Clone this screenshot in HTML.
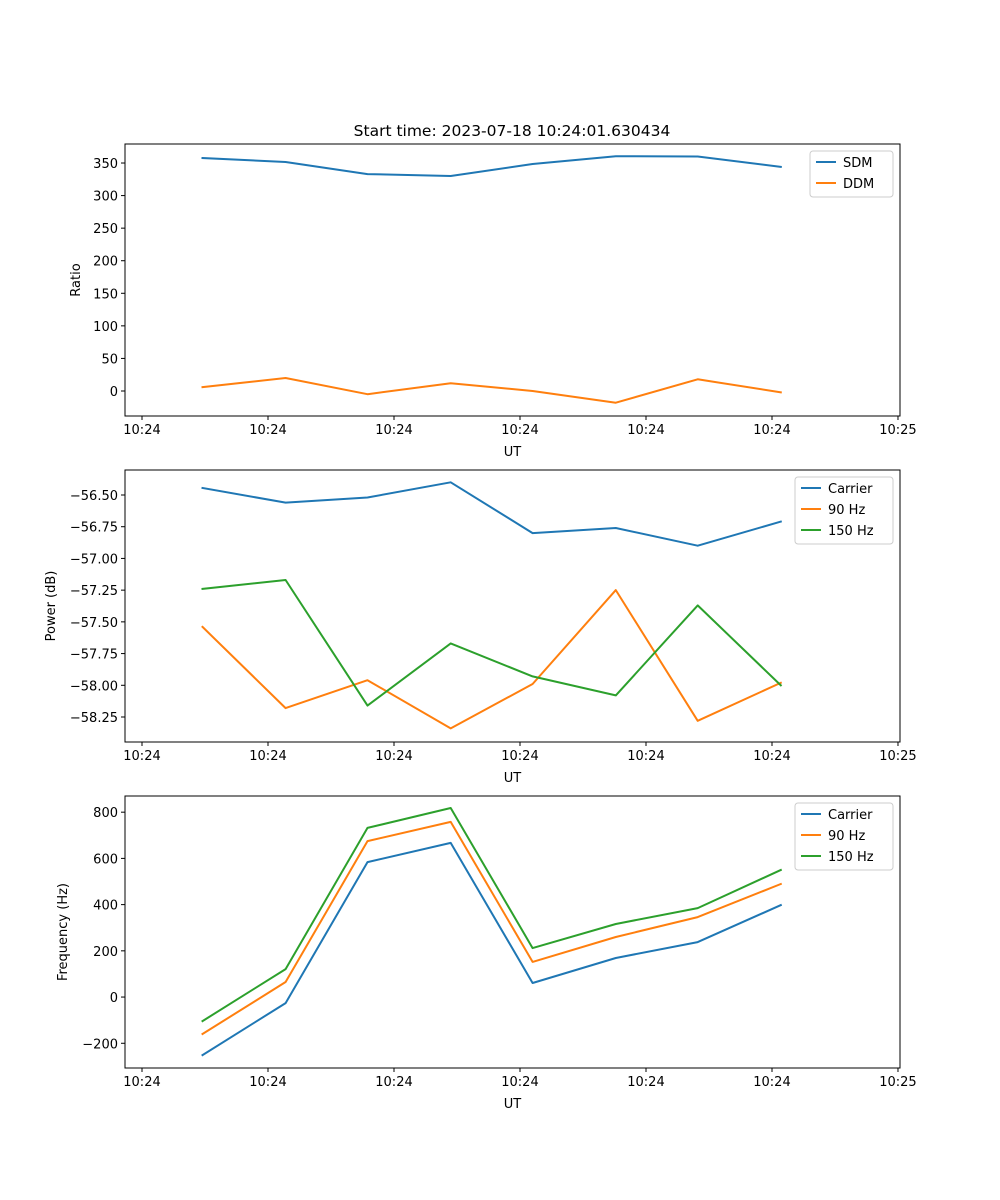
<!DOCTYPE html>
<html><head><meta charset="utf-8"><style>
html,body{margin:0;padding:0;background:#fff}
svg{display:block;font-family:"DejaVu Sans","Liberation Sans",sans-serif}
</style></head><body>
<svg id="fig" width="1000" height="1200" viewBox="0 0 1000 1200" xmlns="http://www.w3.org/2000/svg">
<rect width="1000" height="1200" fill="#fff"/>
<text x="512" y="136" font-size="15.5" text-anchor="middle">Start time: 2023-07-18 10:24:01.630434</text>
</svg>
<script>
// time offsets in seconds from 10:24:00
const times = [4.8, 11.4, 17.9, 24.5, 31.0, 37.6, 44.1, 50.7];
const xTickVals = [0, 10, 20, 30, 40, 50, 60];
const xTickLabels = ["10:24","10:24","10:24","10:24","10:24","10:24","10:25"];

const sdm = [357.7, 351.5, 333, 330, 348.5, 360.5, 360, 344];
const ddm = [6, 20, -5, 12, 0, -18, 18, -2];
const ratioTicks = [0, 50, 100, 150, 200, 250, 300, 350];

const pCarrier = [-56.445, -56.56, -56.52, -56.40, -56.80, -56.76, -56.90, -56.71];
const p90 = [-57.54, -58.18, -57.96, -58.34, -57.99, -57.25, -58.28, -57.98];
const p150 = [-57.24, -57.17, -58.16, -57.67, -57.93, -58.08, -57.37, -58.00];
const powerTicks = [-56.5, -56.75, -57.0, -57.25, -57.5, -57.75, -58.0, -58.25];

const fCarrier = [-251, -26, 584, 667, 61, 169, 238, 398];
const f90 = [-160, 65, 675, 758, 152, 260, 346, 489];
const f150 = [-104, 121, 732, 818, 212, 316, 385, 550];
const freqTicks = [-200, 0, 200, 400, 600, 800];

const NS = "http://www.w3.org/2000/svg";
const svg = document.getElementById("fig");
const C = {blue:"#1f77b4", orange:"#ff7f0e", green:"#2ca02c"};
function mk(tag, attrs, parent){const e=document.createElementNS(NS,tag);for(const k in attrs)e.setAttribute(k,attrs[k]);(parent||svg).appendChild(e);return e;}

const L=125, R=900, XMIN=-1.35, XMAX=60.16;
function xs(t){return L+(t-XMIN)/(XMAX-XMIN)*(R-L);}

function panel(name, top, bottom, ymin, ymax, yTicks, fmt, ylabel, ylabelX, series, legend){
  const g=mk("g",{});
  
  
  const ys=v=>bottom-(v-ymin)/(ymax-ymin)*(bottom-top);
  series.forEach(s=>{
    const d=s.data.map((v,i)=>(i?"L":"M")+xs(times[i]).toFixed(1)+" "+ys(v).toFixed(1)).join(" ");
    const p=mk("path",{d:d,fill:"none",stroke:s.color,"stroke-width":2,"stroke-linejoin":"round","stroke-linecap":"square"},g);
    
    
  });
  const fr=mk("rect",{x:L,y:top,width:R-L,height:bottom-top,fill:"none",stroke:"#000","stroke-width":1},g);
  
  
  xTickVals.forEach((t,i)=>{
    const x=xs(t);
    mk("line",{x1:x,x2:x,y1:bottom,y2:bottom+4,stroke:"#000"},g);
    const tx=mk("text",{x:x,y:bottom+18,"font-size":13,"text-anchor":"middle"},g);
    tx.textContent=xTickLabels[i];
    
    
  });
  yTicks.forEach(v=>{
    const y=ys(v);
    mk("line",{x1:L-4,x2:L,y1:y,y2:y,stroke:"#000"},g);
    const tx=mk("text",{x:L-7,y:y+5,"font-size":13,"text-anchor":"end"},g);
    tx.textContent=fmt(v);
    
    
  });
  const xl=mk("text",{x:(L+R)/2,y:bottom+40,"font-size":13,"text-anchor":"middle"},g);
  xl.textContent="UT";
  
  
  const cy=(top+bottom)/2;
  const yl=mk("text",{x:ylabelX,y:cy,"font-size":13,"text-anchor":"middle",transform:"rotate(-90 "+ylabelX+" "+cy+")"},g);
  yl.textContent=ylabel;
  
  
  const lg=mk("g",{},g);
  
  
  const lh=4+series.length*21;
  mk("rect",{x:legend.x,y:top+7,width:R-7-legend.x,height:lh,rx:3,fill:"#fff","fill-opacity":0.8,stroke:"#ccc"},lg);
  series.forEach((s,i)=>{
    const y=top+18+i*21;
    mk("line",{x1:legend.x+6,x2:legend.x+26,y1:y,y2:y,stroke:s.color,"stroke-width":2},lg);
    const tx=mk("text",{x:legend.x+33,y:y+5,"font-size":13},lg);
    tx.textContent=s.label;
    
    
  });
}

panel("ratio",144,416,-38.4,379.2,ratioTicks,v=>String(v),"Ratio",80,
  [{key:"sdm",label:"SDM",data:sdm,color:C.blue},{key:"ddm",label:"DDM",data:ddm,color:C.orange}],{x:810});
panel("power",470,742,-58.447,-56.303,powerTicks,v=>v.toFixed(2).replace("-","\u2212"),"Power (dB)",55,
  [{key:"carrier",label:"Carrier",data:pCarrier,color:C.blue},{key:"90hz",label:"90 Hz",data:p90,color:C.orange},{key:"150hz",label:"150 Hz",data:p150,color:C.green}],{x:795});
panel("frequency",796,1068,-307,870,freqTicks,v=>String(v).replace("-","\u2212"),"Frequency (Hz)",67,
  [{key:"carrier",label:"Carrier",data:fCarrier,color:C.blue},{key:"90hz",label:"90 Hz",data:f90,color:C.orange},{key:"150hz",label:"150 Hz",data:f150,color:C.green}],{x:795});
</script>
</body></html>
